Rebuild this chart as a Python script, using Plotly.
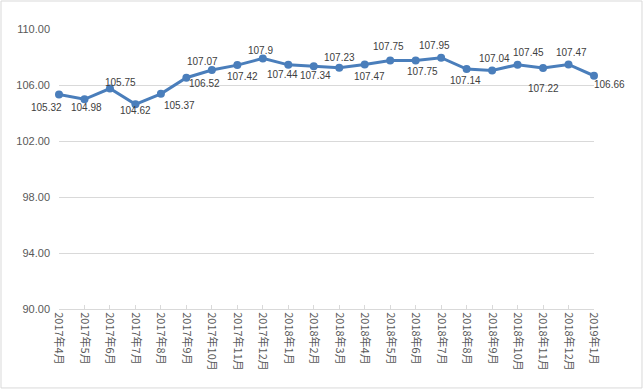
import plotly.graph_objects as go

months = ["2017年4月", "2017年5月", "2017年6月", "2017年7月", "2017年8月", "2017年9月",
          "2017年10月", "2017年11月", "2017年12月", "2018年1月", "2018年2月", "2018年3月",
          "2018年4月", "2018年5月", "2018年6月", "2018年7月", "2018年8月", "2018年9月",
          "2018年10月", "2018年11月", "2018年12月", "2019年1月"]
values = [105.32, 104.98, 105.75, 104.62, 105.37, 106.52, 107.07, 107.42, 107.9, 107.44,
          107.34, 107.23, 107.47, 107.75, 107.75, 107.95, 107.14, 107.04, 107.45, 107.22,
          107.47, 106.66]
label_texts = ["105.32", "104.98", "105.75", "104.62", "105.37", "106.52", "107.07", "107.42",
               "107.9", "107.44", "107.34", "107.23", "107.47", "107.75", "107.75", "107.95",
               "107.14", "107.04", "107.45", "107.22", "107.47", "106.66"]
y_ticks = [90, 94, 98, 102, 106, 110]

# label offsets (pixels, right / down) relative to each point
label_dx = [-13, 2, 11, 0, 19, 18, -9, 5, -2, -6, 1.5, 0, 4.5, -2, 7, -7, -1.5, 2, 11, 0, 3, 15]
label_dy = [12.5, 8, -6.5, 6.5, 12, 6, -9, 11.5, -8, 10, 9, -10, 12, -14.5, 10.5, -12, 11, -12, -12.4, 21, -12, 8.5]

blue = "#4A7EBB"
grid = "#D9D9D9"
tickc = "#595959"

fig = go.Figure()
fig.add_trace(go.Scatter(
    x=months, y=values, mode="lines+markers",
    line=dict(color=blue, width=3),
    marker=dict(color=blue, size=8),
    cliponaxis=False, hoverinfo="x+y"))

for m, v, t, dx, dy in zip(months, values, label_texts, label_dx, label_dy):
    fig.add_annotation(x=m, y=v, text=t, showarrow=False, xshift=dx, yshift=-dy,
                       font=dict(family="Liberation Sans, Arial, sans-serif", size=10, color="#404040"))

fig.add_shape(type="rect", xref="paper", yref="paper", x0=-0.1084, x1=1.0897, y0=-0.282, y1=1.1,
              line=dict(color=grid, width=1), layer="below")

fig.update_layout(
    width=643, height=390,
    margin=dict(l=59, r=49, t=29, b=81),
    paper_bgcolor="white", plot_bgcolor="white",
    showlegend=False,
    xaxis=dict(type="category", range=[0, 21], showgrid=False, zeroline=False,
               showline=True, linecolor=grid, linewidth=1,
               ticks="inside", ticklen=4, tickcolor=grid, tickangle=90,
               tickfont=dict(family="Noto Sans CJK SC, sans-serif", size=11, color=tickc)),
    yaxis=dict(range=[90, 110], tickvals=y_ticks, tickformat=".2f", showgrid=True,
               gridcolor=grid, gridwidth=1, zeroline=False, showline=False,
               tickfont=dict(family="Liberation Sans, Arial, sans-serif", size=11, color=tickc),
               ticklabelstandoff=8),
)

fig.write_html("out.html", config={"displayModeBar": False},
               post_script="document.body.style.margin='0';document.body.style.overflow='hidden';")
